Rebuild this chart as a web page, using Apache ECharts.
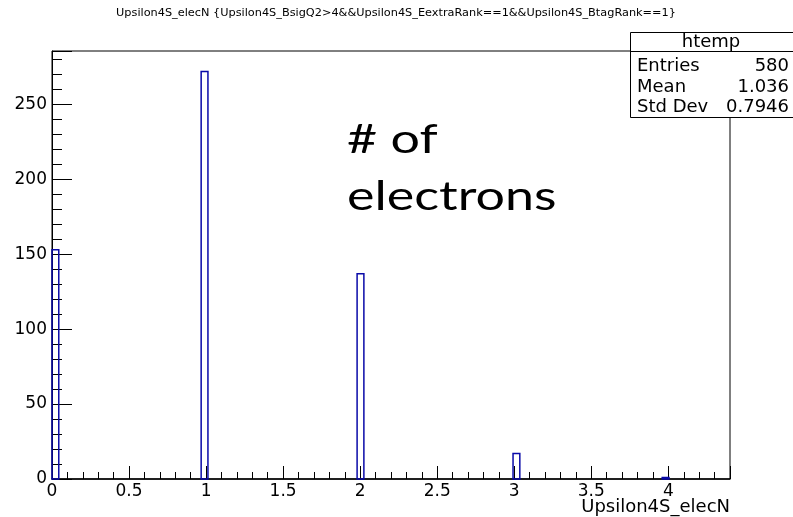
<!DOCTYPE html>
<html>
<head>
<meta charset="utf-8">
<script src="https://cdn.jsdelivr.net/npm/echarts@6/dist/echarts.min.js"></script>
<style>
	html, body {margin: 0; padding: 0; background: #fff;}
	#main {width: 793px; height: 517px;}
</style>
</head>
<body>
<div id="main"></div>
<script>
// histogram of Upsilon4S_elecN, 100 bins from 0 to 4.4 (only filled bins kept)
const binWidth = 0.044;
const binLow = [0, 0.968, 1.98, 2.992, 3.96];
const counts = [153, 272, 137, 17, 1];

const xMin = 0, xMax = 4.4;
const yMax = 285.6;

const statNames = ['Entries', 'Mean', 'Std Dev'];
const statValues = ['580', '1.036', '0.7946'];

const title = 'Upsilon4S_elecN {Upsilon4S_BsigQ2>4&&Upsilon4S_EextraRank==1&&Upsilon4S_BtagRank==1}';

const numFont = 'DejaVu Sans';
const histColor = '#0a0aa8';

const chart = echarts.init(document.getElementById('main'), null, {renderer: 'canvas'});

function isMultiple(v, step) {
	const r = v / step;
	return Math.abs(r - Math.round(r)) < 1e-6;
}

const statGraphics = [
	{type: 'rect', shape: {x: 630.5, y: 32.5, width: 170, height: 85}, style: {fill: '#fff', stroke: '#000', lineWidth: 1}, z: 10},
	{type: 'line', shape: {x1: 630.5, y1: 51.5, x2: 800, y2: 51.5}, style: {stroke: '#000', lineWidth: 1}, z: 11},
	{type: 'text', x: 711, y: 42, z: 11, style: {text: 'htemp', font: '18px "DejaVu Sans"', fill: '#000', align: 'center', verticalAlign: 'middle'}}
];
const rowY = [66, 87, 107];
statNames.forEach((name, i) => {
	statGraphics.push({type: 'text', x: 637, y: rowY[i], z: 11, style: {text: name, font: '18px "DejaVu Sans"', fill: '#000', align: 'left', verticalAlign: 'middle'}});
	statGraphics.push({type: 'text', x: 789, y: rowY[i], z: 11, style: {text: statValues[i], font: '18px "DejaVu Sans"', fill: '#000', align: 'right', verticalAlign: 'middle'}});
});

const option = {
	animation: false,
	backgroundColor: '#fff',
	grid: {left: 52, right: 63, top: 51, bottom: 38, show: true, borderColor: '#000', borderWidth: 1, backgroundColor: 'transparent'},
	xAxis: [
		{
			type: 'value', min: xMin, max: xMax, interval: 0.5, position: 'bottom',
			axisLine: {show: true, onZero: false, lineStyle: {color: '#000', width: 1.5}},
			axisTick: {show: true, inside: true, length: 13, lineStyle: {color: '#000'}},
			axisLabel: {
				show: true, margin: 4, color: '#000', fontFamily: numFont, fontSize: 17,
				formatter: v => isMultiple(v, 0.5) ? String(v) : ''
			},
			splitLine: {show: false}
		},
		{
			type: 'value', min: xMin, max: xMax, interval: 0.1, position: 'bottom',
			axisLine: {show: false, onZero: false},
			axisTick: {show: true, inside: true, length: 7, lineStyle: {color: '#000'}},
			axisLabel: {show: false},
			splitLine: {show: false}
		}
	],
	yAxis: [
		{
			type: 'value', min: 0, max: yMax, interval: 50, position: 'left',
			axisLine: {show: true, onZero: false, lineStyle: {color: '#000'}},
			axisTick: {show: true, inside: true, length: 20, lineStyle: {color: '#000'}},
			axisLabel: {
				show: true, margin: 5, color: '#000', fontFamily: numFont, fontSize: 17,
				formatter: v => isMultiple(v, 50) ? String(v) : ''
			},
			splitLine: {show: false}
		},
		{
			type: 'value', min: 0, max: yMax, interval: 10, position: 'left',
			axisLine: {show: false, onZero: false},
			axisTick: {show: true, inside: true, length: 10, lineStyle: {color: '#000'}},
			axisLabel: {show: false},
			splitLine: {show: false}
		}
	],
	series: [{
		type: 'custom',
		xAxisIndex: 0,
		yAxisIndex: 0,
		data: binLow.map((lo, i) => [lo, counts[i]]),
		renderItem: (params, api) => {
			const lo = api.value(0);
			const top = api.coord([lo, api.value(1)]);
			const base = api.coord([lo + binWidth, 0]);
			return {
				type: 'rect',
				shape: {x: top[0], y: top[1], width: base[0] - top[0], height: base[1] - top[1]},
				style: {fill: 'none', stroke: histColor, lineWidth: 1.5}
			};
		},
		z: 5
	}],
	graphic: [
		{type: 'text', x: 396, y: 13, style: {text: title, font: '11.3px "DejaVu Sans"', fill: '#000', align: 'center', verticalAlign: 'middle'}},
		{type: 'text', x: 730, y: 507, style: {text: 'Upsilon4S_elecN', font: '18px "DejaVu Sans"', fill: '#000', align: 'right', verticalAlign: 'middle'}},
		{type: 'text', x: 347, y: 140, scaleX: 1.3, style: {text: '# of', font: '40px Lato', fill: '#000', align: 'left', verticalAlign: 'middle'}},
		{type: 'text', x: 347, y: 197, scaleX: 1.3, style: {text: 'electrons', font: '40px Lato', fill: '#000', align: 'left', verticalAlign: 'middle'}}
	].concat(statGraphics)
};

chart.setOption(option);
</script>
</body>
</html>
